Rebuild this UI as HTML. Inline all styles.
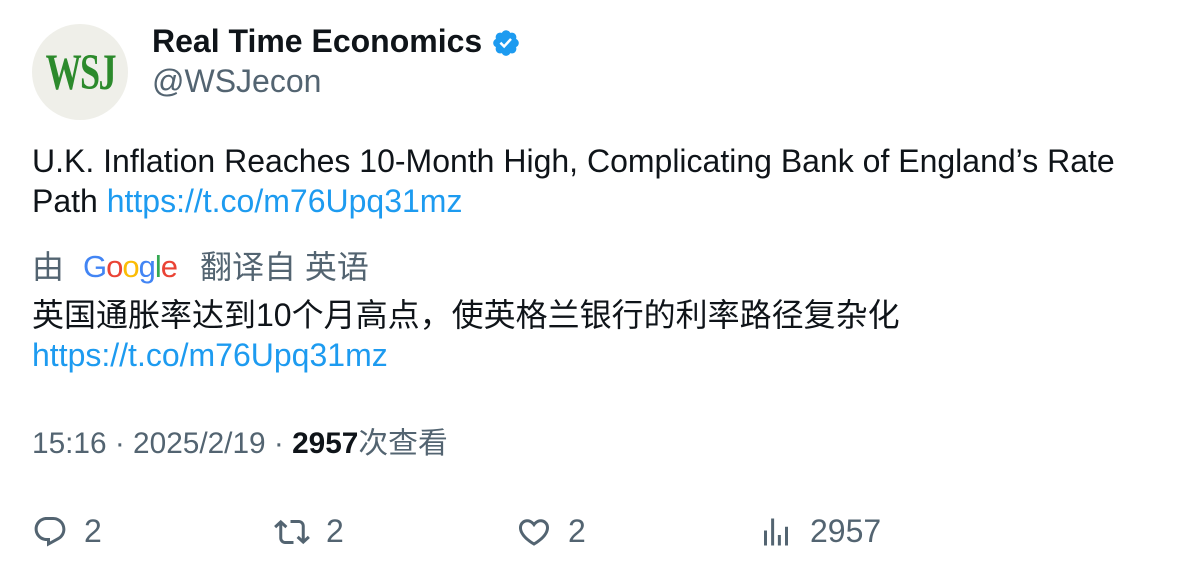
<!DOCTYPE html>
<html><head><meta charset="utf-8"><style>
body{margin:0;width:1196px;height:578px;background:#fff;font-family:"Liberation Sans","Noto Sans CJK SC",sans-serif;position:relative;overflow:hidden;color:#0f1419}
.abs{position:absolute;white-space:nowrap}
.gray{color:#536471}
.link{color:#1d9bf0}
</style></head><body>
<div class="abs" style="left:32px;top:24px;width:96px;height:96px;border-radius:50%;background:#efefe9;display:flex;align-items:center;justify-content:center;font-family:'Liberation Serif',serif;font-weight:bold;font-size:44px;color:#2c8a2c;letter-spacing:-2px"><span style="display:inline-block;transform:scale(0.82,1.15)">WSJ</span></div>
<div class="abs" style="left:152px;top:21px;font-size:32px;font-weight:bold;line-height:40px">Real Time Economics</div>
<svg class="abs" style="left:491px;top:28px" width="30" height="30" viewBox="0 0 24 24"><path fill="#1d9bf0" d="M22.25 12c0-1.43-.88-2.670-2.19-3.34.46-1.39.2-2.9-.81-3.91s-2.52-1.27-3.91-.81c-.66-1.310-1.910-2.190-3.340-2.190s-2.67.88-3.33 2.19c-1.4-.46-2.91-.2-3.92.81s-1.26 2.52-.8 3.91c-1.31.67-2.2 1.91-2.2 3.34s.89 2.67 2.2 3.34c-.46 1.39-.21 2.9.8 3.91s2.52 1.26 3.91.81c.67 1.31 1.91 2.19 3.34 2.19s2.68-.88 3.34-2.19c1.39.45 2.9.2 3.91-.81s1.27-2.52.81-3.91c1.31-.67 2.19-1.91 2.19-3.34z"/><path fill="#fff" d="M10.54 16.2l-3.74-3.74 1.41-1.42 2.26 2.26 4.8-5.23 1.47 1.36z"/></svg>
<div class="abs gray" style="left:152px;top:61px;font-size:32px;line-height:40px">@WSJecon</div>
<div class="abs" style="left:32px;top:141px;font-size:32px;line-height:40px">U.K. Inflation Reaches 10-Month High, Complicating Bank of England’s Rate<br>Path <span class="link">https://t.co/m76Upq31mz</span></div>
<div class="abs gray" style="left:32px;top:247px;font-size:32px;line-height:40px">由</div>
<div class="abs" style="left:83px;top:247px;font-size:31px;line-height:40px;letter-spacing:-1px"><span style="color:#4285f4">G</span><span style="color:#ea4335">o</span><span style="color:#fbbc05">o</span><span style="color:#4285f4">g</span><span style="color:#34a853">l</span><span style="color:#ea4335">e</span></div>
<div class="abs gray" style="left:200px;top:247px;font-size:32px;line-height:40px">翻译自 英语</div>
<div class="abs" style="left:32px;top:295px;font-size:32px;line-height:40px">英国通胀率达到10个月高点，使英格兰银行的利率路径复杂化<br><span class="link">https://t.co/m76Upq31mz</span></div>
<div class="abs gray" style="left:32px;top:425px;font-size:29.8px;line-height:38px">15:16 · 2025/2/19 · <b style="color:#0f1419">2957</b>次查看</div>
<svg class="abs" style="left:32px;top:514px" width="36" height="36" viewBox="0 0 24 24"><path fill="#536471" d="M1.751 10c0-4.42 3.584-8 8.005-8h4.366c4.49 0 8.129 3.64 8.129 8.13 0 2.96-1.607 5.68-4.196 7.11l-8.054 4.460v-3.690h-.067c-4.49.1-8.183-3.51-8.183-8.01zm8.005-6c-3.317 0-6.005 2.69-6.005 6 0 3.37 2.77 6.08 6.138 6.01l.351-.01h1.761v2.3l5.087-2.81c1.951-1.08 3.163-3.13 3.163-5.36 0-3.39-2.744-6.13-6.129-6.13H9.756z"/></svg>
<div class="abs gray" style="left:84px;top:513px;font-size:32px;line-height:36px">2</div>
<svg class="abs" style="left:274px;top:514px" width="36" height="36" viewBox="0 0 24 24"><path fill="#536471" d="M4.5 3.88l4.432 4.14-1.364 1.46L5.5 7.55V16c0 1.1.896 2 2 2H13v2H7.5c-2.209 0-4-1.79-4-4V7.55L1.432 9.48.068 8.02 4.5 3.88zM16.5 6H11V4h5.5c2.209 0 4 1.79 4 4v8.45l2.068-1.93 1.364 1.46-4.432 4.14-4.432-4.14 1.364-1.46 2.068 1.93V8c0-1.1-.896-2-2-2z"/></svg>
<div class="abs gray" style="left:326px;top:513px;font-size:32px;line-height:36px">2</div>
<svg class="abs" style="left:516px;top:514px" width="36" height="36" viewBox="0 0 24 24"><path fill="#536471" d="M16.697 5.5c-1.222-.06-2.679.51-3.89 2.16l-.805 1.09-.806-1.09C9.984 6.01 8.526 5.44 7.304 5.5c-1.243.07-2.349.78-2.91 1.910-.552 1.12-.633 2.78.479 4.82 1.074 1.97 3.257 4.27 7.129 6.61 3.87-2.34 6.052-4.640 7.126-6.610 1.111-2.04 1.03-3.7.477-4.82-.561-1.13-1.666-1.84-2.908-1.91zm4.187 7.69c-1.351 2.48-4.001 5.12-8.379 7.67l-.503.3-.504-.3c-4.379-2.55-7.029-5.19-8.382-7.67-1.36-2.5-1.41-4.86-.514-6.67.887-1.79 2.647-2.91 4.601-3.01 1.651-.09 3.368.56 4.798 2.01 1.429-1.45 3.146-2.1 4.796-2.01 1.954.1 3.714 1.22 4.601 3.01.896 1.81.846 4.17-.514 6.67z"/></svg>
<div class="abs gray" style="left:568px;top:513px;font-size:32px;line-height:36px">2</div>
<svg class="abs" style="left:758px;top:514px" width="36" height="36" viewBox="0 0 24 24"><path fill="#536471" d="M8.75 21V3h2v18h-2zM18 21V8.5h2V21h-2zM4 21l.004-10h2L6 21H4zm9.248 0v-7h2v7h-2z"/></svg>
<div class="abs gray" style="left:810px;top:513px;font-size:32px;line-height:36px">2957</div>
</body></html>
